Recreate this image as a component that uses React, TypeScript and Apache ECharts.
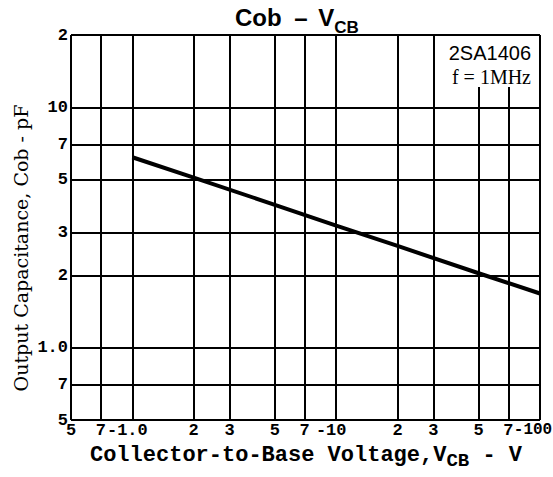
import React, { useEffect, useRef } from "react";
import * as echarts from "echarts";

const xTickValues = [0.5, 0.7, 1, 2, 3, 5, 7, 10, 20, 30, 50, 70, 100];
const xTickLabels = ["5", "7", "-1.0", "2", "3", "5", "7", "-10", "2", "3", "5", "7", "-100"];
const yTickValues = [0.5, 0.7, 1, 2, 3, 5, 7, 10, 20];
const yTickLabels = ["5", "7", "1.0", "2", "3", "5", "7", "10", "2"];
const vcbValues = [1, 2, 5, 10, 20, 50, 100];
const cobValues = [6.2, 5.1, 3.93, 3.22, 2.65, 2.04, 1.68];

const lg = (v: number) => Math.log10(v);

function labelFor(values: number[], labels: string[], v: number): string {
  for (let i = 0; i < values.length; i++) {
    if (Math.abs(lg(values[i]) - v) < 1e-6) return labels[i];
  }
  return "";
}

export default function App() {
  const ref = useRef<HTMLDivElement>(null);
  useEffect(() => {
    document.body.style.margin = "0";
    if (!ref.current) return;
    const chart = echarts.init(ref.current, null, { renderer: "svg" });
    const tickFont = { fontFamily: "Liberation Mono", fontWeight: "bold" as const, fontSize: 17, color: "#000" };
    chart.setOption({
      animation: false,
      backgroundColor: "#fff",
      grid: { left: 71, right: 13, top: 35, bottom: 57, containLabel: false, outerBoundsMode: "none" },
      xAxis: {
        type: "value",
        min: lg(xTickValues[0]),
        max: lg(xTickValues[xTickValues.length - 1]),
        axisLine: { show: true, lineStyle: { color: "#000", width: 2 } },
        axisTick: { show: false, customValues: xTickValues.map(lg) },
        splitLine: { show: true, lineStyle: { color: "#000", width: 2 } },
        axisLabel: {
          customValues: xTickValues.map(lg),
          showMinLabel: true,
          showMaxLabel: true,
          hideOverlap: false,
          margin: 2,
          ...tickFont,
          formatter: (v: number) => {
            const t = labelFor(xTickValues, xTickLabels, v);
            if (t === "-100") return "{e|" + t + "}";
            if (t.startsWith("-")) return "{m|" + t + "}";
            return t;
          },
          rich: {
            e: { ...tickFont, fontSize: 16, padding: [0, 14, 0, 0] },
            m: { ...tickFont, padding: [0, 10, 0, 0] },
          },
        },
      },
      yAxis: {
        type: "value",
        min: lg(yTickValues[0]),
        max: lg(yTickValues[yTickValues.length - 1]),
        axisLine: { show: true, lineStyle: { color: "#000", width: 2 } },
        axisTick: { show: false, customValues: yTickValues.map(lg) },
        splitLine: { show: true, lineStyle: { color: "#000", width: 2 } },
        axisLabel: {
          customValues: yTickValues.map(lg),
          showMinLabel: true,
          showMaxLabel: true,
          hideOverlap: false,
          margin: 3,
          ...tickFont,
          formatter: (v: number) => labelFor(yTickValues, yTickLabels, v),
        },
      },
      series: [
        {
          type: "line",
          data: vcbValues.map((v, i) => [lg(v), lg(cobValues[i])]),
          showSymbol: false,
          silent: true,
          lineStyle: { color: "#000", width: 4 },
          z: 5,
        },
      ],
      graphic: [
        {
          type: "rect",
          z: 50,
          shape: { x: 435, y: 36, width: 104, height: 51 },
          style: { fill: "#fff" },
        },
        {
          type: "text",
          z: 51,
          x: 531,
          y: 53,
          style: { text: "2SA1406", textAlign: "right", verticalAlign: "middle", font: '20px "Liberation Sans"', fill: "#000" },
        },
        {
          type: "text",
          z: 51,
          x: 531,
          y: 77,
          style: { text: "f = 1MHz", textAlign: "right", verticalAlign: "middle", font: '20px "Liberation Serif"', fill: "#000" },
        },
        {
          type: "text",
          z: 51,
          x: 235,
          y: 17,
          style: {
            text: "{a|Cob}{d| – }{a|V}{b|CB}",
            textAlign: "left",
            verticalAlign: "middle",
            fill: "#000",
            rich: {
              a: { fontFamily: "Liberation Sans", fontWeight: "bold", fontSize: 24, fill: "#000" },
              d: { fontFamily: "Liberation Sans", fontWeight: "bold", fontSize: 24, padding: [0, 4, 0, 6], fill: "#000" },
              b: { fontFamily: "Liberation Sans", fontWeight: "bold", fontSize: 17, padding: [20, 0, 0, 0], fill: "#000" },
            },
          },
        },
        {
          type: "text",
          z: 51,
          x: 21,
          y: 248,
          rotation: Math.PI / 2,
          style: {
            text: "Output Capacitance, Cob - pF",
            textAlign: "center",
            verticalAlign: "middle",
            font: '19px "DejaVu Serif"',
            fill: "#000000",
          },
        },
        {
          type: "text",
          z: 51,
          x: 306,
          y: 455,
          style: {
            text: "{a|Collector-to-Base Voltage,V}{b|CB}{a| - V}",
            textAlign: "center",
            verticalAlign: "middle",
            fill: "#000",
            rich: {
              a: { fontFamily: "Liberation Mono", fontWeight: "bold", fontSize: 22, fill: "#000" },
              b: { fontFamily: "Liberation Mono", fontWeight: "bold", fontSize: 19, padding: [12, 0, 0, 0], fill: "#000" },
            },
          },
        },
      ],
    });
    return () => chart.dispose();
  }, []);
  return <div ref={ref} style={{ width: 553, height: 477, position: "absolute", left: 0, top: 0 }} />;
}
